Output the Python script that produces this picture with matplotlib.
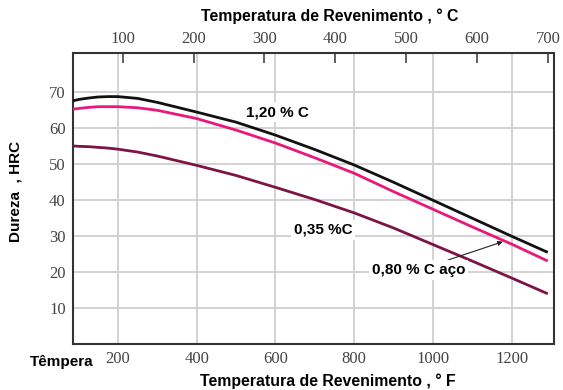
import matplotlib
matplotlib.use("Agg")
import matplotlib.pyplot as plt

# tempering temperature (deg F) and hardness (HRC)
temp_f = [85, 100, 125, 150, 175, 200, 250, 300, 400, 500, 600, 700, 800, 900, 1000, 1100, 1200, 1288]
hrc_120 = [67.5, 67.9, 68.3, 68.6, 68.7, 68.7, 68.2, 67.1, 64.4, 61.6, 58.0, 54.0, 49.7, 44.9, 39.9, 34.9, 29.9, 25.6]
hrc_080 = [65.2, 65.4, 65.7, 65.9, 65.9, 65.9, 65.6, 64.9, 62.6, 59.4, 55.8, 51.7, 47.4, 42.3, 37.4, 32.5, 27.7, 23.2]
hrc_035 = [55.0, 54.9, 54.8, 54.6, 54.4, 54.1, 53.3, 52.2, 49.6, 46.8, 43.5, 40.1, 36.4, 32.2, 27.6, 23.0, 18.3, 14.1]

f_ticks = [200, 400, 600, 800, 1000, 1200]
c_ticks = [100, 200, 300, 400, 500, 600, 700]
y_ticks = [10, 20, 30, 40, 50, 60, 70]

tick_font = dict(family="Liberation Serif", size=12, color="#444444")
bold = dict(family="Liberation Sans", weight="bold")

fig = plt.figure(figsize=(5.63, 3.90), dpi=100)
ax = fig.add_axes([0.129, 0.118, 0.855, 0.746])

ax.plot(temp_f, hrc_120, color="#111111", lw=2, zorder=3)
ax.plot(temp_f, hrc_080, color="#e8197a", lw=2, zorder=3)
ax.plot(temp_f, hrc_035, color="#7d1446", lw=2, zorder=3)

ax.set_xlim(85, 1307)
ax.set_ylim(0, 80.8)
ax.set_xticks(f_ticks)
ax.set_yticks(y_ticks)
ax.set_xticklabels([str(t) for t in f_ticks], **tick_font)
ax.set_yticklabels([str(t) for t in y_ticks], **tick_font)
ax.tick_params(length=0, pad=5)
ax.grid(True, color="#cfcfcf", lw=1.3)
ax.set_axisbelow(True)
for s in ax.spines.values():
    s.set_color("#333333")
    s.set_linewidth(1.5)

# top axis in Celsius
top = ax.secondary_xaxis("top", functions=(lambda f: (f - 32) * 5 / 9,
                                           lambda c: c * 9 / 5 + 32))
top.set_xticks(c_ticks)
top.set_xticklabels([str(t) for t in c_ticks], **tick_font)
top.tick_params(direction="in", length=7, width=1.2, color="#444444", pad=4)
top.spines["top"].set_visible(False)

# curve labels
box = dict(facecolor="white", edgecolor="none", pad=2)
ax.text(604, 64.4, "1,20 % C", ha="center", va="center", size=11, bbox=box, **bold)
ax.text(721, 31.7, "0,35 %C", ha="center", va="center", size=11, bbox=box, **bold)
ax.annotate("0,80 % C aço", xy=(1177, 28.4), xytext=(845, 20.6),
            ha="left", va="center", size=11, bbox=box, **bold,
            arrowprops=dict(arrowstyle="-|>", color="#222222", lw=0.8,
                            mutation_scale=7, shrinkA=0, shrinkB=0))

fig.text(0.586, 0.958, "Temperatura de Revenimento , ° C", ha="center", va="center",
         size=11.4, **bold)
fig.text(0.582, 0.022, "Temperatura de Revenimento , ° F", ha="center", va="center",
         size=11.4, **bold)
fig.text(0.027, 0.51, "Dureza  , HRC", ha="center", va="center", rotation=90,
         size=11, **bold)
fig.text(0.053, 0.072, "Têmpera", ha="left", va="center", size=11, **bold)

fig.savefig("out.png", dpi=100)
